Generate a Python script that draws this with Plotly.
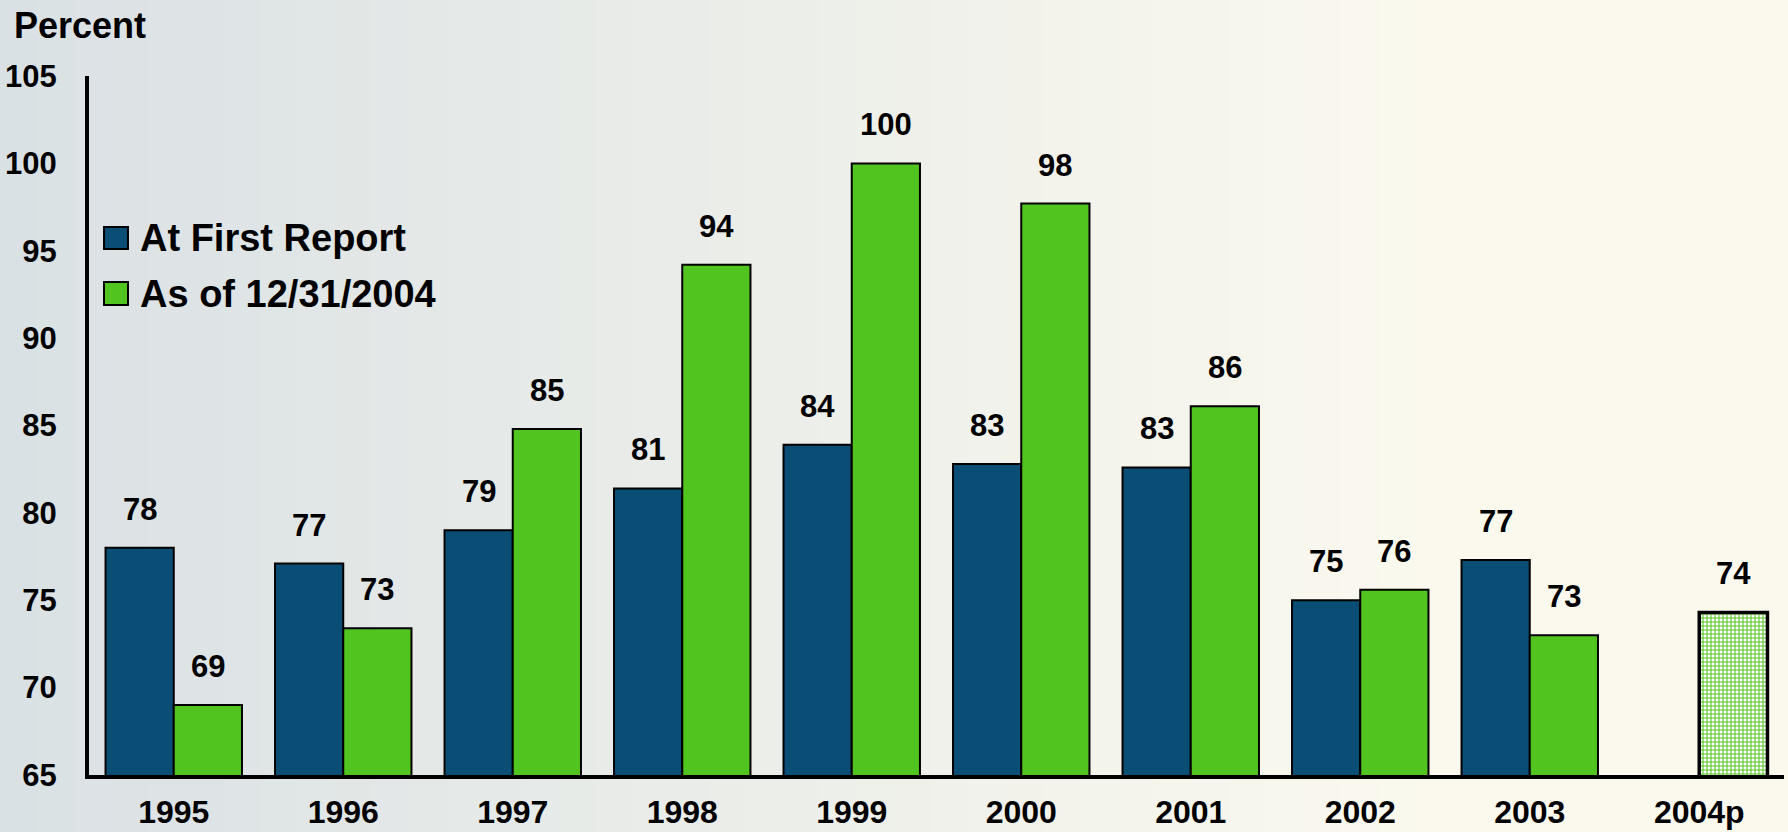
import plotly.graph_objects as go

# ---------------- data ----------------
years = ["1995", "1996", "1997", "1998", "1999", "2000", "2001", "2002", "2003", "2004p"]
first_report = [78.0, 77.1, 79.0, 81.4, 83.9, 82.8, 82.6, 75.0, 77.3, None]
as_of_2004 = [69.0, 73.4, 84.8, 94.2, 100.0, 97.7, 86.1, 75.6, 73.0, 74.3]
first_labels = ["78", "77", "79", "81", "84", "83", "83", "75", "77", None]
asof_labels = ["69", "73", "85", "94", "100", "98", "86", "76", "73", "74"]
series_names = ["At First Report", "As of 12/31/2004"]
y_ticks = [65, 70, 75, 80, 85, 90, 95, 100, 105]

# ---------------- style ----------------
W, H = 1788, 832
ML, MR, MT, MB = 89, 4, 76, 57
PW, PH = W - ML - MR, H - MT - MB
BLUE = "#0A4E76"
GREEN = "#52C41F"
FONT = "Liberation Sans, Arial, sans-serif"
BARGAP = 0.195


def px_x(p):
    return (p - ML) / PW


def px_y(p):
    return (H - MB - p) / PH


fig = go.Figure()

n = len(years)
green_pattern = [""] * (n - 1) + ["+"]
green_lw = [2] * (n - 1) + [3.5]

fig.add_trace(go.Bar(
    name=series_names[0], x=years, y=first_report,
    marker=dict(color=BLUE, line=dict(color="black", width=2)),
    showlegend=False, hoverinfo="x+y",
))
fig.add_trace(go.Bar(
    name=series_names[1], x=years, y=as_of_2004,
    marker=dict(color=GREEN,
                line=dict(color="black", width=green_lw),
                pattern=dict(shape=green_pattern, fgcolor=[GREEN] * n, bgcolor=["white"] * n,
                             fgopacity=1, size=4, solidity=0.45, fillmode="replace")),
    showlegend=False, hoverinfo="x+y",
))

# value labels
off = (1 - BARGAP) / 4
annotations = []
for i in range(n):
    for vals, labs, dx in ((first_report, first_labels, -off), (as_of_2004, asof_labels, off)):
        if vals[i] is None:
            continue
        annotations.append(dict(
            x=i + dx, y=vals[i], xref="x", yref="y", text=labs[i], showarrow=False,
            yanchor="bottom", yshift=19,
            font=dict(family=FONT, size=31, color="black", weight="bold"),
        ))

# axis title "Percent"
annotations.append(dict(
    x=px_x(12), y=px_y(25), xref="paper", yref="paper", text="Percent",
    showarrow=False, xanchor="left", yanchor="middle",
    font=dict(family=FONT, size=36, color="black", weight="bold"),
))

# manual legend
shapes = []
legend_rows = [(series_names[0], BLUE, 227, 249), (series_names[1], GREEN, 282, 305)]
for name, col, y0, y1 in legend_rows:
    shapes.append(dict(type="rect", xref="paper", yref="paper",
                       x0=px_x(104), x1=px_x(128), y0=px_y(y1), y1=px_y(y0),
                       fillcolor=col, line=dict(color="black", width=2), layer="above"))
    annotations.append(dict(
        x=px_x(138), y=px_y((y0 + y1) / 2), xref="paper", yref="paper",
        text=name, showarrow=False, xanchor="left", yanchor="middle",
        font=dict(family=FONT, size=38, color="black", weight="bold"),
    ))

# background gradient (left bluish grey -> right cream)
c_left = (218, 225, 228)
c_right = (251, 249, 238)
steps = 48
for k in range(steps):
    t = k / (steps - 1)
    t2 = min(1.0, t * 1.25)
    c = tuple(int(round(c_left[j] + (c_right[j] - c_left[j]) * t2)) for j in range(3))
    x0 = px_x(W * k / steps)
    x1 = px_x(W * (k + 1) / steps + 1)
    shapes.append(dict(type="rect", xref="paper", yref="paper",
                       x0=x0, x1=x1, y0=px_y(H), y1=px_y(0),
                       fillcolor="rgb(%d,%d,%d)" % c, line=dict(width=0), layer="below"))

fig.update_layout(
    width=W, height=H,
    margin=dict(l=ML, r=MR, t=MT, b=MB, autoexpand=False),
    barmode="group", bargap=BARGAP, bargroupgap=0,
    paper_bgcolor="rgb(232,236,230)", plot_bgcolor="rgba(0,0,0,0)",
    font=dict(family=FONT, color="black"),
    shapes=shapes, annotations=annotations,
    showlegend=False,
)
fig.update_xaxes(
    type="category", range=[-0.5, n - 0.5], automargin=False,
    showline=True, linecolor="black", linewidth=4, showgrid=False,
    ticks="", ticklabelstandoff=6,
    tickfont=dict(family=FONT, size=32, color="black", weight="bold"),
)
fig.update_yaxes(
    range=[65, 105], tickvals=y_ticks, ticktext=[str(v) for v in y_ticks], automargin=False,
    showline=True, linecolor="black", linewidth=4, showgrid=False, zeroline=False,
    ticks="", ticklabelstandoff=22,
    tickfont=dict(family=FONT, size=31, color="black", weight="bold"),
)

fig.write_html(
    "out.html",
    config={"displayModeBar": False},
    post_script="document.body.style.margin='0';document.body.style.overflow='hidden';",
)
